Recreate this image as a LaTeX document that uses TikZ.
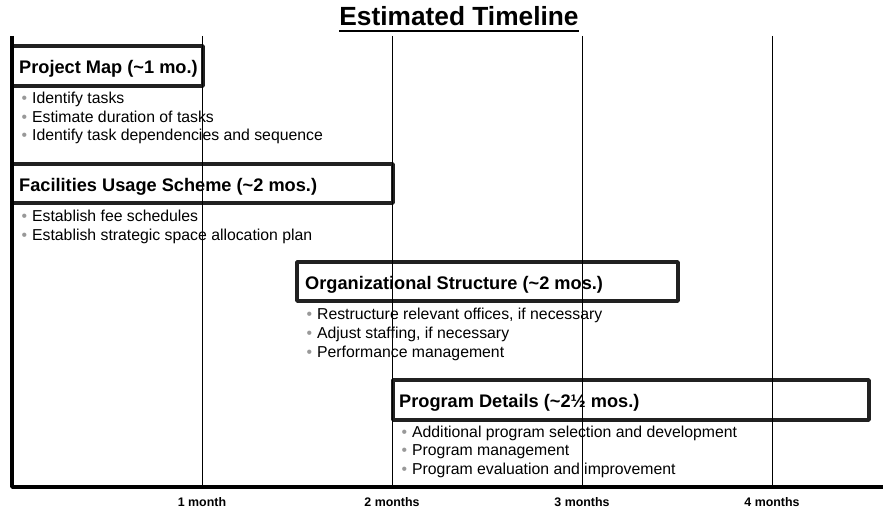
\documentclass[tikz,border=0pt]{standalone}
\usepackage{fontspec}
\setmainfont{Liberation Sans}
\definecolor{sqsqsq}{rgb}{0.13,0.13,0.13}
\definecolor{zzzzzz}{rgb}{0.6,0.6,0.6}
\newcommand{\tbul}{{\color{zzzzzz}\textbullet}\hspace{5pt}}
\begin{document}
\begin{tikzpicture}[line cap=butt,line join=round,x=1pt,y=-1pt,
  phase/.style={draw=sqsqsq,line width=3.5pt},
  phasename/.style={anchor=base west,inner sep=0pt,font=\fontsize{18.2}{20}\selectfont\bfseries},
  task/.style={anchor=base west,inner sep=0pt,font=\fontsize{15.8}{18}\selectfont},
  monthlabel/.style={anchor=base,inner sep=0pt,font=\fontsize{12.4}{14}\selectfont\bfseries}]
\useasboundingbox (0,0) rectangle (883,510);
\node[anchor=base,inner sep=0pt,font=\fontsize{26.3}{30}\selectfont\bfseries] (title) at (459,26) {Estimated Timeline};
\draw[line width=2pt] ([yshift=-5pt]title.base west) -- ([yshift=-5pt]title.base east);
% project map
\draw[phase] (12,46) rectangle (203,86);
\node[phasename] (pmap) at (19,74) {Project Map (\textasciitilde1 mo.)};
\foreach \t [count=\i] in {Identify tasks,Estimate duration of tasks,Identify task dependencies and sequence}
  \node[task] (pmap\i) at (21.4,85.5+18.5*\i) {\tbul\t};
% facilities
\draw[phase] (12,164) rectangle (393,203);
\node[phasename] (fac) at (19,191.5) {Facilities Usage Scheme (\textasciitilde2 mos.)};
\foreach \t [count=\i] in {Establish fee schedules,Establish strategic space allocation plan}
  \node[task] (fac\i) at (21.4,203.5+18.5*\i) {\tbul\t};
% organization
\draw[phase] (297,262) rectangle (678,301);
\node[phasename] (org) at (305,289.5) {Organizational Structure (\textasciitilde2 mos.)};
\foreach \t [count=\i] in {{Restructure relevant offices, if necessary},{Adjust staffing, if necessary},Performance management}
  \node[task] (org\i) at (306.4,301.5+18.5*\i) {\tbul\t};
% program
\draw[phase] (393,380) rectangle (869,420);
\node[phasename] (prog) at (399,407.5) {Program Details (\textasciitilde2½ mos.)};
\foreach \t [count=\i] in {Additional program selection and development,Program management,Program evaluation and improvement}
  \node[task] (prog\i) at (401.4,418.5+18.5*\i) {\tbul\t};
% months
\foreach \m/\t in {1/1 month,2/2 months,3/3 months,4/4 months}
  \draw[line width=1pt] (12+190*\m,36) -- (12+190*\m,487) node[monthlabel] (m\m) at (12+190*\m,506) {\t};
\draw[line width=3.5pt] (12,36) -- (12,487) -- (883,487);
\end{tikzpicture}
\end{document}
